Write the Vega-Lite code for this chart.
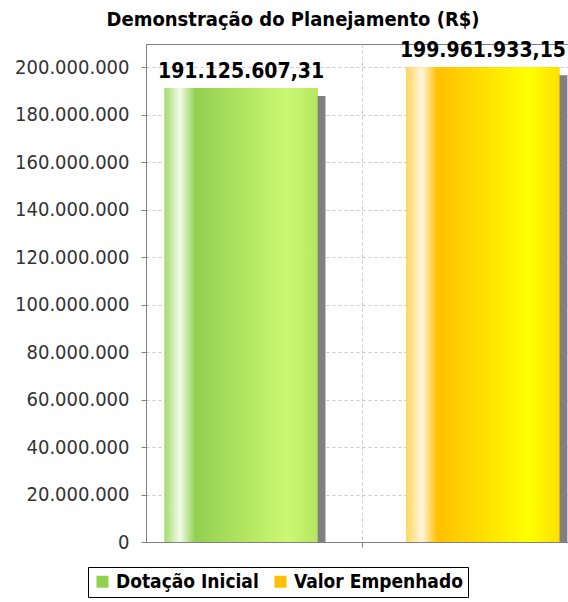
{
  "$schema": "https://vega.github.io/schema/vega-lite/v6.json",
  "autosize": {"type": "none"},
  "padding": {"left": 146, "top": 44, "right": 0, "bottom": 60},
  "width": 422,
  "height": 498,
  "background": "#ffffff",
  "config": {
    "locale": {"number": {"decimal": ",", "thousands": ".", "grouping": [3], "currency": ["R$ ", ""]}},
    "view": {"stroke": "#808080"},
    "font": "DejaVu Sans Condensed"
  },
  "title": {
    "text": "Demonstração do Planejamento (R$)",
    "font": "DejaVu Sans Condensed",
    "fontSize": 20,
    "fontWeight": "bold",
    "color": "#000000",
    "anchor": "middle",
    "dx": -64,
    "offset": 10
  },
  "data": {
    "values": [
      {"grupo": "", "serie": "Dotação Inicial", "valor": 191125607.31},
      {"grupo": "", "serie": "Valor Empenhado", "valor": 199961933.15}
    ]
  },
  "encoding": {
    "x": {
      "field": "grupo",
      "type": "nominal",
      "scale": {"type": "band", "range": [0, 432], "paddingInner": 0, "paddingOuter": 0},
      "axis": {
        "title": null,
        "labels": false,
        "ticks": true,
        "tickSize": 5,
        "tickColor": "#808080",
        "domainColor": "#808080",
        "grid": true,
        "gridDash": [3, 3],
        "gridColor": "#c8c8c8",
        "bandPosition": 0.5
      }
    },
    "xOffset": {
      "field": "serie",
      "type": "nominal",
      "scale": {"type": "band", "domain": ["Dotação Inicial", "Valor Empenhado"], "paddingInner": 0.368, "paddingOuter": 0.077}
    },
    "y": {
      "field": "valor",
      "type": "quantitative",
      "scale": {"domain": [0, 209700000], "nice": false},
      "axis": {
        "title": null,
        "values": [0, 20000000, 40000000, 60000000, 80000000, 100000000, 120000000, 140000000, 160000000, 180000000, 200000000],
        "format": ",.0f",
        "labelFont": "DejaVu Sans Condensed",
        "labelFontSize": 20,
        "labelColor": "#333333",
        "labelPadding": 12,
        "tickSize": 5,
        "tickColor": "#808080",
        "domainColor": "#808080",
        "grid": true,
        "gridDash": [3, 3],
        "gridColor": "#c8c8c8"
      }
    }
  },
  "resolve": {"scale": {"xOffset": "independent"}},
  "layer": [
    {
      "mark": {"type": "bar", "color": "#808080", "yOffset": 8, "clip": true},
      "encoding": {
        "xOffset": {
          "field": "serie",
          "type": "nominal",
          "scale": {"type": "band", "domain": ["Dotação Inicial", "Valor Empenhado"], "range": [8, 440], "paddingInner": 0.368, "paddingOuter": 0.077}
        }
      }
    },
    {
      "mark": {"type": "bar"},
      "encoding": {
        "color": {
          "field": "serie",
          "type": "nominal",
          "scale": {"range": ["#92d050", "#ffc000"]},
          "legend": {
            "orient": "none",
            "legendX": -58,
            "legendY": 523,
            "direction": "horizontal",
            "title": null,
            "strokeColor": "#000000",
            "fillColor": "#ffffff",
            "padding": 5,
            "symbolType": "square",
            "symbolSize": 144,
            "symbolStrokeWidth": 0,
            "labelFont": "DejaVu Sans Condensed",
            "labelFontSize": 19,
            "labelFontWeight": "bold",
            "labelColor": "#000000",
            "labelLimit": 400,
            "columnPadding": 12
          }
        }
      }
    },
    {
      "transform": [{"filter": {"field": "serie", "equal": "Dotação Inicial"}}],
      "mark": {
        "type": "bar",
        "color": {
          "gradient": "linear", "x1": 0, "x2": 1, "y1": 0, "y2": 0,
          "stops": [
            {"offset": 0, "color": "#a6dc6c"},
            {"offset": 0.1, "color": "#f4fcea"},
            {"offset": 0.2, "color": "#92d050"},
            {"offset": 0.8, "color": "#ccf873"},
            {"offset": 1, "color": "#b4e860"}
          ]
        }
      }
    },
    {
      "transform": [{"filter": {"field": "serie", "equal": "Valor Empenhado"}}],
      "mark": {
        "type": "bar",
        "color": {
          "gradient": "linear", "x1": 0, "x2": 1, "y1": 0, "y2": 0,
          "stops": [
            {"offset": 0, "color": "#ffd75a"},
            {"offset": 0.1, "color": "#fff6e0"},
            {"offset": 0.2, "color": "#ffc000"},
            {"offset": 0.8, "color": "#ffff00"},
            {"offset": 1, "color": "#ffe000"}
          ]
        }
      }
    },
    {
      "mark": {
        "type": "text",
        "baseline": "alphabetic",
        "dy": -10,
        "font": "DejaVu Sans Condensed",
        "fontSize": 21,
        "fontWeight": "bold",
        "color": "#000000"
      },
      "encoding": {
        "text": {"field": "valor", "type": "quantitative", "format": ",.2f"}
      }
    }
  ]
}
